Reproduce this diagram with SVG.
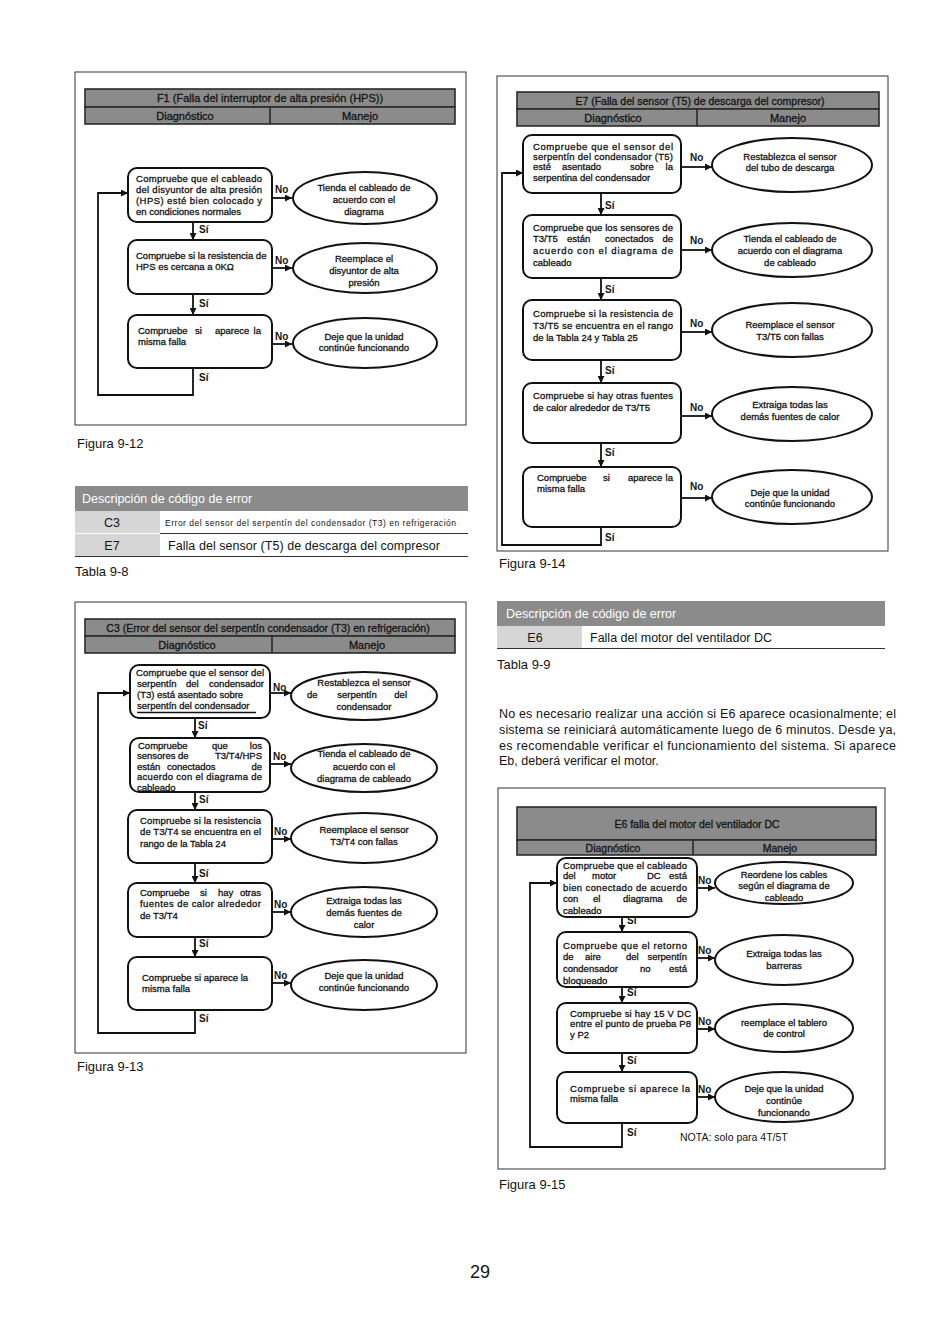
<svg xmlns="http://www.w3.org/2000/svg" width="950" height="1344" viewBox="0 0 950 1344">
<style>
text{font-family:"Liberation Sans",Arial,Helvetica,sans-serif;fill:#141414}
.b{font-size:9.5px;stroke:#141414;stroke-width:0.3}
.m{text-anchor:middle}
.r{text-anchor:end}
.lb{font-size:10px;font-weight:bold}
.hd{font-size:11px;stroke:#141414;stroke-width:0.3}
.hd2{font-size:10.5px;stroke:#141414;stroke-width:0.3}
.cap{font-size:13px}
.tb{font-size:12.5px}
.wt{fill:#fff}
.frame{fill:none;stroke:#333;stroke-width:1}
.hdr{fill:#8b8b8b;stroke:#2a2a2a;stroke-width:1.6}
.div{stroke:#2a2a2a;stroke-width:1.6}
.box{fill:#fff;stroke:#111;stroke-width:2}
.ell{fill:#fff;stroke:#111;stroke-width:2}
.cn{fill:none;stroke:#111;stroke-width:1.8}
.ul{stroke:#111;stroke-width:1.5}
.th{fill:#8b8b8b}
.tc{fill:#d6d6d6}
.tl{stroke:#333;stroke-width:1.2}
</style>
<defs>
<marker id="ah" viewBox="0 0 10 10" refX="10" refY="5" markerWidth="8" markerHeight="7" markerUnits="userSpaceOnUse" orient="auto"><path d="M0,0 L10,5 L0,10 z" fill="#111"/></marker>
</defs>
<rect width="950" height="1344" fill="#fff"/>

<!-- ===== Figure 9-12 ===== -->
<g id="fig-9-12">
<rect class="frame" x="75" y="72" width="391" height="353"/>
<rect class="hdr" x="85" y="89" width="370" height="18"/>
<rect class="hdr" x="85" y="107" width="370" height="17"/>
<line class="div" x1="270" y1="107" x2="270" y2="124"/>
<text class="hd m" x="270" y="102">F1 (Falla del interruptor de alta presión (HPS))</text>
<text class="hd m" x="185" y="120">Diagnóstico</text>
<text class="hd m" x="360" y="120">Manejo</text>
<text class="cap" x="77" y="448">Figura 9-12</text>
</g>
<g id="f12-n1">
<rect class="box" x="128" y="168" width="144" height="54" rx="9"/>
<text class="b" x="136" y="181.5" textLength="126" lengthAdjust="spacing">Compruebe que el cableado</text>
<text class="b" x="136" y="192.5" textLength="126" lengthAdjust="spacing">del disyuntor de alta presión</text>
<text class="b" x="136" y="203.5" textLength="126" lengthAdjust="spacing">(HPS) esté bien colocado y</text>
<text class="b" x="136" y="214.5">en condiciones normales</text>
</g>
<g id="f12-e1">
<ellipse class="ell" cx="365" cy="198" rx="72" ry="26"/>
<text class="b m" x="364" y="191">Tienda el cableado de</text>
<text class="b m" x="364" y="203">acuerdo con el</text>
<text class="b m" x="364" y="215">diagrama</text>
</g>
<g id="f12-n2">
<rect class="box" x="128" y="240" width="144" height="54" rx="9"/>
<text class="b" x="136" y="258.5">Compruebe si la resistencia de</text>
<text class="b" x="136" y="269.5">HPS es cercana a 0KΩ</text>
</g>
<g id="f12-e2">
<ellipse class="ell" cx="365" cy="268" rx="72" ry="25"/>
<text class="b m" x="364" y="261.5">Reemplace el</text>
<text class="b m" x="364" y="273.5">disyuntor de alta</text>
<text class="b m" x="364" y="285.5">presión</text>
</g>
<g id="f12-n3">
<rect class="box" x="128" y="315" width="144" height="53" rx="9"/>
<text class="b" y="333.5"><tspan x="138">Compruebe</tspan><tspan x="195">si</tspan><tspan x="215">aparece</tspan></text>
<text class="b r" x="261" y="333.5">la</text>
<text class="b" x="138" y="344.5">misma falla</text>
</g>
<g id="f12-e3">
<ellipse class="ell" cx="365" cy="343" rx="72" ry="25"/>
<text class="b m" x="364" y="339.5">Deje que la unidad</text>
<text class="b m" x="364" y="351">continúe funcionando</text>
</g>

<!-- ===== Table 9-8 ===== -->
<g id="tabla-9-8">
<rect class="th" x="75" y="486" width="393" height="25"/>
<text class="tb wt" x="82" y="503">Descripción de código de error</text>
<rect class="tc" x="75" y="511" width="85" height="22"/>
<text class="tb m" x="112" y="527">C3</text>
<text x="165" y="526" font-size="8.5" textLength="291" lengthAdjust="spacing">Error del sensor del serpentín del condensador (T3) en refrigeración</text>
<line class="tl" x1="160" y1="533.5" x2="468" y2="533.5"/>
<rect class="tc" x="75" y="534" width="85" height="22"/>
<text class="tb m" x="112" y="550">E7</text>
<text class="tb" x="168" y="550" textLength="272" lengthAdjust="spacing">Falla del sensor (T5) de descarga del compresor</text>
<line class="tl" x1="75" y1="556.5" x2="468" y2="556.5"/>
<text class="cap" x="75" y="576">Tabla 9-8</text>
</g>

<!-- ===== Figure 9-13 ===== -->
<g id="fig-9-13">
<rect class="frame" x="75" y="602" width="391" height="451"/>
<rect class="hdr" x="85" y="619" width="370" height="17"/>
<rect class="hdr" x="85" y="636" width="370" height="17"/>
<line class="div" x1="272" y1="636" x2="272" y2="653"/>
<text class="hd2 m" x="268" y="632">C3 (Error del sensor del serpentín condensador (T3) en refrigeración)</text>
<text class="hd m" x="187" y="649">Diagnóstico</text>
<text class="hd m" x="367" y="649">Manejo</text>
<text class="cap" x="77" y="1071">Figura 9-13</text>
</g>
<g id="f13-n1">
<rect class="box" x="130" y="665" width="140" height="53" rx="9"/>
<text class="b" x="136" y="675.5" textLength="128" lengthAdjust="spacing">Compruebe que el sensor del</text>
<text class="b" y="686.5"><tspan x="137">serpentín</tspan><tspan x="186">del</tspan></text>
<text class="b r" x="264" y="686.5">condensador</text>
<text class="b" x="137" y="697.5">(T3) está asentado sobre</text>
<text class="b" x="137" y="709">serpentín del condensador</text>
<line class="ul" x1="137" y1="712.5" x2="256" y2="712.5"/>
</g>
<g id="f13-e1">
<ellipse class="ell" cx="364" cy="696" rx="73" ry="24"/>
<text class="b m" x="364" y="686">Restablezca el sensor</text>
<text class="b" x="307" y="697.5">de</text>
<text class="b m" x="357" y="697.5">serpentín</text>
<text class="b r" x="407" y="697.5">del</text>
<text class="b m" x="364" y="709.5">condensador</text>
</g>
<g id="f13-n2">
<rect class="box" x="130" y="738" width="140" height="54" rx="9"/>
<text class="b" x="138" y="748.5">Compruebe</text>
<text class="b" x="212" y="748.5">que</text>
<text class="b r" x="262" y="748.5">los</text>
<text class="b" x="137" y="759">sensores</text>
<text class="b" x="178" y="759">de</text>
<text class="b r" x="262" y="759">T3/T4/HPS</text>
<text class="b" x="137" y="769.5">están</text>
<text class="b" x="167" y="769.5">conectados</text>
<text class="b r" x="262" y="769.5">de</text>
<text class="b" x="137" y="780" textLength="125" lengthAdjust="spacing">acuerdo con el diagrama de</text>
<text class="b" x="137" y="790.5">cableado</text>
</g>
<g id="f13-e2">
<ellipse class="ell" cx="364" cy="768" rx="73" ry="24"/>
<text class="b m" x="364" y="757">Tienda el cableado de</text>
<text class="b m" x="364" y="769.5">acuerdo con el</text>
<text class="b m" x="364" y="782">diagrama de cableado</text>
</g>
<g id="f13-n3">
<rect class="box" x="128" y="810" width="144" height="53" rx="9"/>
<text class="b" x="140" y="823.5" textLength="121" lengthAdjust="spacing">Compruebe si la resistencia</text>
<text class="b" x="140" y="835" textLength="121" lengthAdjust="spacing">de T3/T4 se encuentra en el</text>
<text class="b" x="140" y="846.5">rango de la Tabla 24</text>
</g>
<g id="f13-e3">
<ellipse class="ell" cx="364" cy="838" rx="73" ry="25"/>
<text class="b m" x="364" y="832.5">Reemplace el sensor</text>
<text class="b m" x="364" y="845">T3/T4 con fallas</text>
</g>
<g id="f13-n4">
<rect class="box" x="128" y="883" width="144" height="54" rx="9"/>
<text class="b" x="140" y="895.5">Compruebe</text>
<text class="b" x="200" y="895.5">si</text>
<text class="b" x="218" y="895.5">hay</text>
<text class="b r" x="261" y="895.5">otras</text>
<text class="b" x="140" y="907" textLength="121" lengthAdjust="spacing">fuentes de calor alrededor</text>
<text class="b" x="140" y="918.5">de T3/T4</text>
</g>
<g id="f13-e4">
<ellipse class="ell" cx="364" cy="912" rx="73" ry="25"/>
<text class="b m" x="364" y="903.5">Extraiga todas las</text>
<text class="b m" x="364" y="915.5">demás fuentes de</text>
<text class="b m" x="364" y="927.5">calor</text>
</g>
<g id="f13-n5">
<rect class="box" x="128" y="957" width="144" height="53" rx="9"/>
<text class="b" x="142" y="980.5">Compruebe si aparece la</text>
<text class="b" x="142" y="991.5">misma falla</text>
</g>
<g id="f13-e5">
<ellipse class="ell" cx="364" cy="985" rx="73" ry="25"/>
<text class="b m" x="364" y="978.5">Deje que la unidad</text>
<text class="b m" x="364" y="990.5">continúe funcionando</text>
</g>

<!-- ===== Figure 9-14 ===== -->
<g id="fig-9-14">
<rect class="frame" x="497" y="76" width="391" height="475"/>
<rect class="hdr" x="517" y="92" width="362" height="17"/>
<rect class="hdr" x="517" y="109" width="362" height="17"/>
<line class="div" x1="697" y1="109" x2="697" y2="126"/>
<text class="hd2 m" x="700" y="105">E7 (Falla del sensor (T5) de descarga del compresor)</text>
<text class="hd m" x="613" y="122">Diagnóstico</text>
<text class="hd m" x="788" y="122">Manejo</text>
<text class="cap" x="499" y="568">Figura 9-14</text>
</g>
<g id="f14-n1">
<rect class="box" x="523" y="135" width="158" height="58" rx="9"/>
<text class="b" x="533" y="149.5" textLength="140" lengthAdjust="spacing">Compruebe que el sensor del</text>
<text class="b" x="533" y="159.5" textLength="140" lengthAdjust="spacing">serpentín del condensador (T5)</text>
<text class="b" x="533" y="170">esté</text>
<text class="b" x="562" y="170">asentado</text>
<text class="b" x="630" y="170">sobre</text>
<text class="b r" x="673" y="170">la</text>
<text class="b" x="533" y="180.5">serpentina del condensador</text>
</g>
<g id="f14-e1">
<ellipse class="ell" cx="792" cy="165" rx="80" ry="27"/>
<text class="b m" x="790" y="159.5">Restablezca el sensor</text>
<text class="b m" x="790" y="171">del tubo de descarga</text>
</g>
<g id="f14-n2">
<rect class="box" x="523" y="215" width="158" height="63" rx="9"/>
<text class="b" x="533" y="230.5" textLength="140" lengthAdjust="spacing">Compruebe que los sensores de</text>
<text class="b" x="533" y="241.5">T3/T5</text>
<text class="b" x="567" y="241.5">están</text>
<text class="b" x="605" y="241.5">conectados</text>
<text class="b r" x="673" y="241.5">de</text>
<text class="b" x="533" y="253.5" textLength="140" lengthAdjust="spacing">acuerdo con el diagrama de</text>
<text class="b" x="533" y="265.5">cableado</text>
</g>
<g id="f14-e2">
<ellipse class="ell" cx="792" cy="250" rx="80" ry="27"/>
<text class="b m" x="790" y="242">Tienda el cableado de</text>
<text class="b m" x="790" y="254">acuerdo con el diagrama</text>
<text class="b m" x="790" y="266">de cableado</text>
</g>
<g id="f14-n3">
<rect class="box" x="523" y="300" width="158" height="60" rx="9"/>
<text class="b" x="533" y="316.5" textLength="140" lengthAdjust="spacing">Compruebe si la resistencia de</text>
<text class="b" x="533" y="328.5" textLength="140" lengthAdjust="spacing">T3/T5 se encuentra en el rango</text>
<text class="b" x="533" y="340.5">de la Tabla 24 y Tabla 25</text>
</g>
<g id="f14-e3">
<ellipse class="ell" cx="792" cy="330" rx="80" ry="27"/>
<text class="b m" x="790" y="327.5">Reemplace el sensor</text>
<text class="b m" x="790" y="339.5">T3/T5 con fallas</text>
</g>
<g id="f14-n4">
<rect class="box" x="523" y="383" width="158" height="60" rx="9"/>
<text class="b" x="533" y="398.5" textLength="140" lengthAdjust="spacing">Compruebe si hay otras fuentes</text>
<text class="b" x="533" y="410.5">de calor alrededor de T3/T5</text>
</g>
<g id="f14-e4">
<ellipse class="ell" cx="792" cy="414" rx="80" ry="27"/>
<text class="b m" x="790" y="407.5">Extraiga todas las</text>
<text class="b m" x="790" y="419.5">demás fuentes de calor</text>
</g>
<g id="f14-n5">
<rect class="box" x="523" y="467" width="158" height="60" rx="9"/>
<text class="b" x="537" y="480.5">Compruebe</text>
<text class="b" x="603" y="480.5">si</text>
<text class="b" x="628" y="480.5">aparece</text>
<text class="b r" x="673" y="480.5">la</text>
<text class="b" x="537" y="491.5">misma falla</text>
</g>
<g id="f14-e5">
<ellipse class="ell" cx="792" cy="497" rx="80" ry="27"/>
<text class="b m" x="790" y="495.5">Deje que la unidad</text>
<text class="b m" x="790" y="507">continúe funcionando</text>
</g>

<!-- ===== Table 9-9 + paragraph ===== -->
<g id="tabla-9-9">
<rect class="th" x="497" y="601" width="388" height="25"/>
<text class="tb wt" x="506" y="618">Descripción de código de error</text>
<rect class="tc" x="497" y="626" width="85" height="22"/>
<text class="tb m" x="535" y="642">E6</text>
<text class="tb" x="590" y="642">Falla del motor del ventilador DC</text>
<line class="tl" x1="497" y1="648.5" x2="885" y2="648.5"/>
<text class="cap" x="497" y="669">Tabla 9-9</text>
</g>
<g id="nota-e6">
<text class="tb" x="499" y="717.5" textLength="397" lengthAdjust="spacing">No es necesario realizar una acción si E6 aparece ocasionalmente; el</text>
<text class="tb" x="499" y="733.5" textLength="397" lengthAdjust="spacing">sistema se reiniciará automáticamente luego de 6 minutos. Desde ya,</text>
<text class="tb" x="499" y="749.5" textLength="397" lengthAdjust="spacing">es recomendable verificar el funcionamiento del sistema. Si aparece</text>
<text class="tb" x="499" y="764.5">Eb, deberá verificar el motor.</text>
</g>

<!-- ===== Figure 9-15 ===== -->
<g id="fig-9-15">
<rect class="frame" x="498" y="788" width="387" height="381"/>
<rect class="hdr" x="517" y="807" width="359" height="33"/>
<rect class="hdr" x="517" y="840" width="359" height="15"/>
<line class="div" x1="693" y1="840" x2="693" y2="855"/>
<text class="hd2 m" x="697" y="828">E6 falla del motor del ventilador DC</text>
<text class="hd2 m" x="613" y="851.5">Diagnóstico</text>
<text class="hd2 m" x="780" y="851.5">Manejo</text>
<text x="680" y="1141" font-size="10.5">NOTA: solo para 4T/5T</text>
<text class="cap" x="499" y="1189">Figura 9-15</text>
</g>
<g id="f15-n1">
<rect class="box" x="557" y="858" width="140" height="59" rx="9"/>
<text class="b" x="563" y="868.5" textLength="124" lengthAdjust="spacing">Compruebe que el cableado</text>
<text class="b" x="563" y="879">del</text>
<text class="b" x="592" y="879">motor</text>
<text class="b" x="647" y="879">DC</text>
<text class="b r" x="687" y="879">está</text>
<text class="b" x="563" y="890.5" textLength="124" lengthAdjust="spacing">bien conectado de acuerdo</text>
<text class="b" x="563" y="901.5">con</text>
<text class="b" x="593" y="901.5">el</text>
<text class="b" x="623" y="901.5">diagrama</text>
<text class="b r" x="687" y="901.5">de</text>
<text class="b" x="563" y="913.5">cableado</text>
</g>
<g id="f15-e1">
<ellipse class="ell" cx="784" cy="883" rx="69" ry="21"/>
<text class="b m" x="784" y="877.5">Reordene los cables</text>
<text class="b m" x="784" y="888.5">según el diagrama de</text>
<text class="b m" x="784" y="900.5">cableado</text>
</g>
<g id="f15-n2">
<rect class="box" x="557" y="932" width="140" height="55" rx="9"/>
<text class="b" x="563" y="948.5" textLength="124" lengthAdjust="spacing">Compruebe que el retorno</text>
<text class="b" x="563" y="960">de</text>
<text class="b" x="585" y="960">aire</text>
<text class="b" x="626" y="960">del</text>
<text class="b r" x="687" y="960">serpentín</text>
<text class="b" x="563" y="971.5">condensador</text>
<text class="b" x="640" y="971.5">no</text>
<text class="b r" x="687" y="971.5">está</text>
<text class="b" x="563" y="983.5">bloqueado</text>
</g>
<g id="f15-e2">
<ellipse class="ell" cx="784" cy="960" rx="69" ry="25"/>
<text class="b m" x="784" y="956.5">Extraiga todas las</text>
<text class="b m" x="784" y="968.5">barreras</text>
</g>
<g id="f15-n3">
<rect class="box" x="557" y="1003" width="140" height="50" rx="9"/>
<text class="b" x="570" y="1016.5" textLength="121" lengthAdjust="spacing">Compruebe si hay 15 V DC</text>
<text class="b" x="570" y="1027" textLength="121" lengthAdjust="spacing">entre el punto de prueba P8</text>
<text class="b" x="570" y="1038">y P2</text>
</g>
<g id="f15-e3">
<ellipse class="ell" cx="784" cy="1028" rx="69" ry="24"/>
<text class="b m" x="784" y="1025.5">reemplace el tablero</text>
<text class="b m" x="784" y="1037">de control</text>
</g>
<g id="f15-n4">
<rect class="box" x="557" y="1072" width="140" height="51" rx="9"/>
<text class="b" x="570" y="1091.5" textLength="120" lengthAdjust="spacing">Compruebe si aparece la</text>
<text class="b" x="570" y="1102">misma falla</text>
</g>
<g id="f15-e4">
<ellipse class="ell" cx="784" cy="1097" rx="69" ry="25"/>
<text class="b m" x="784" y="1091.5">Deje que la unidad</text>
<text class="b m" x="784" y="1103.5">continúe</text>
<text class="b m" x="784" y="1115.5">funcionando</text>
</g>

<!-- ===== Connectors ===== -->
<g id="connectors">
<g id="c-9-12">
<line class="cn" x1="272" y1="198" x2="292" y2="198" marker-end="url(#ah)"/>
<line class="cn" x1="272" y1="268" x2="292" y2="268" marker-end="url(#ah)"/>
<line class="cn" x1="272" y1="344" x2="292" y2="344" marker-end="url(#ah)"/>
<line class="cn" x1="193" y1="222" x2="193" y2="240" marker-end="url(#ah)"/>
<line class="cn" x1="193" y1="294" x2="193" y2="315" marker-end="url(#ah)"/>
<path class="cn" d="M193,368 V395 H98 V193 H128" marker-end="url(#ah)"/>
<text class="lb" x="275" y="193">No</text>
<text class="lb" x="275" y="264">No</text>
<text class="lb" x="275" y="340">No</text>
<text class="lb" x="199" y="233">Sí</text>
<text class="lb" x="199" y="307">Sí</text>
<text class="lb" x="199" y="381">Sí</text>
</g>
<g id="c-9-13">
<line class="cn" x1="270" y1="693" x2="291" y2="693" marker-end="url(#ah)"/>
<line class="cn" x1="270" y1="764" x2="291" y2="764" marker-end="url(#ah)"/>
<line class="cn" x1="272" y1="839" x2="291" y2="839" marker-end="url(#ah)"/>
<line class="cn" x1="272" y1="912" x2="291" y2="912" marker-end="url(#ah)"/>
<line class="cn" x1="272" y1="983" x2="291" y2="983" marker-end="url(#ah)"/>
<line class="cn" x1="195" y1="718" x2="195" y2="738" marker-end="url(#ah)"/>
<line class="cn" x1="195" y1="792" x2="195" y2="810" marker-end="url(#ah)"/>
<line class="cn" x1="195" y1="863" x2="195" y2="883" marker-end="url(#ah)"/>
<line class="cn" x1="195" y1="937" x2="195" y2="957" marker-end="url(#ah)"/>
<path class="cn" d="M195,1010 V1033 H98 V693 H130" marker-end="url(#ah)"/>
<text class="lb" x="273" y="691">No</text>
<text class="lb" x="273" y="760">No</text>
<text class="lb" x="274" y="835">No</text>
<text class="lb" x="274" y="908">No</text>
<text class="lb" x="274" y="979">No</text>
<text class="lb" x="198" y="729">Sí</text>
<text class="lb" x="199" y="803">Sí</text>
<text class="lb" x="199" y="877">Sí</text>
<text class="lb" x="199" y="947">Sí</text>
<text class="lb" x="199" y="1022">Sí</text>
</g>
<g id="c-9-14">
<line class="cn" x1="681" y1="167" x2="712" y2="167" marker-end="url(#ah)"/>
<line class="cn" x1="681" y1="250" x2="712" y2="250" marker-end="url(#ah)"/>
<line class="cn" x1="681" y1="332" x2="712" y2="332" marker-end="url(#ah)"/>
<line class="cn" x1="681" y1="416" x2="712" y2="416" marker-end="url(#ah)"/>
<line class="cn" x1="681" y1="498" x2="712" y2="498" marker-end="url(#ah)"/>
<line class="cn" x1="601" y1="193" x2="601" y2="215" marker-end="url(#ah)"/>
<line class="cn" x1="601" y1="278" x2="601" y2="300" marker-end="url(#ah)"/>
<line class="cn" x1="601" y1="360" x2="601" y2="383" marker-end="url(#ah)"/>
<line class="cn" x1="601" y1="443" x2="601" y2="467" marker-end="url(#ah)"/>
<path class="cn" d="M601,527 V545 H502 V173 H523" marker-end="url(#ah)"/>
<text class="lb" x="690" y="161">No</text>
<text class="lb" x="690" y="244">No</text>
<text class="lb" x="690" y="327">No</text>
<text class="lb" x="690" y="411">No</text>
<text class="lb" x="690" y="490">No</text>
<text class="lb" x="605" y="209">Sí</text>
<text class="lb" x="605" y="293">Sí</text>
<text class="lb" x="605" y="374">Sí</text>
<text class="lb" x="605" y="456">Sí</text>
<text class="lb" x="605" y="541">Sí</text>
</g>
<g id="c-9-15">
<line class="cn" x1="697" y1="888" x2="715" y2="888" marker-end="url(#ah)"/>
<line class="cn" x1="697" y1="958" x2="715" y2="958" marker-end="url(#ah)"/>
<line class="cn" x1="697" y1="1029" x2="715" y2="1029" marker-end="url(#ah)"/>
<line class="cn" x1="697" y1="1097" x2="715" y2="1097" marker-end="url(#ah)"/>
<line class="cn" x1="622" y1="917" x2="622" y2="932" marker-end="url(#ah)"/>
<line class="cn" x1="622" y1="987" x2="622" y2="1003" marker-end="url(#ah)"/>
<line class="cn" x1="622" y1="1053" x2="622" y2="1072" marker-end="url(#ah)"/>
<path class="cn" d="M622,1123 V1147 H530 V883 H557" marker-end="url(#ah)"/>
<text class="lb" x="698" y="884">No</text>
<text class="lb" x="698" y="954">No</text>
<text class="lb" x="698" y="1025">No</text>
<text class="lb" x="698" y="1093">No</text>
<text class="lb" x="627" y="924">Sí</text>
<text class="lb" x="627" y="996">Sí</text>
<text class="lb" x="627" y="1064">Sí</text>
<text class="lb" x="627" y="1136">Sí</text>
</g>
</g>

<text x="480" y="1278" font-size="18" text-anchor="middle">29</text>
</svg>
